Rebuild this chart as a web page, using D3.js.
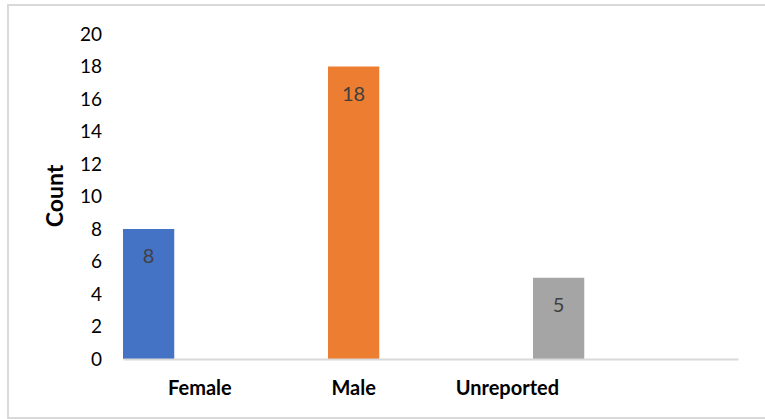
<!DOCTYPE html>
<html>
<head>
<meta charset="utf-8">
<script src="https://cdn.jsdelivr.net/npm/d3@7"></script>
<style>
  body { margin: 0; background: #fff; }
  svg { display: block; }
</style>
</head>
<body>
<script>
// chart data
var categories = ["Female", "Male", "Unreported", ""];
var series = ["Female", "Male", "Unreported"];
var counts = [8, 18, 5];
var colors = ["#4472C4", "#ED7D31", "#A5A5A5"];
var yTicks = [0, 2, 4, 6, 8, 10, 12, 14, 16, 18, 20];

var W = 765, H = 419;
var margin = {top: 34, right: 27, bottom: 60, left: 123};
var font = "Lato, 'Open Sans', sans-serif";

var svg = d3.select("body")
  .append("svg")
  .attr("width", W)
  .attr("height", H);

// outer border of chart area
svg.append("rect")
  .attr("x", 8)
  .attr("y", 5)
  .attr("width", W)
  .attr("height", 413)
  .attr("fill", "none")
  .attr("stroke", "#d9d9d9")
  .attr("stroke-width", 2);

// scales
var x0 = d3.scaleBand()
  .domain(categories)
  .range([margin.left, W - margin.right])
  .padding(0);

var x1 = d3.scaleBand()
  .domain(series)
  .range([0, x0.bandwidth()])
  .padding(0);

var y = d3.scaleLinear()
  .domain([0, 20])
  .range([H - margin.bottom, margin.top]);

// Y axis (labels only)
var yAxis = svg.append("g")
  .attr("transform", "translate(" + (margin.left - 21) + ",0)")
  .call(d3.axisLeft(y).tickValues(yTicks).tickSize(0).tickPadding(0));
yAxis.select(".domain").remove();
yAxis.selectAll("text")
  .attr("font-family", font)
  .attr("font-size", 19)
  .attr("fill", "#000");

// bars, one per series in its own category
var bars = series.map(function(s, i) {
  return {cat: categories[i], ser: s, value: counts[i], color: colors[i]};
});

svg.selectAll("rect.bar")
  .data(bars)
  .enter().append("rect")
  .attr("class", "bar")
  .attr("x", function(d) { return x0(d.cat) + x1(d.ser); })
  .attr("width", x1.bandwidth())
  .attr("y", function(d) { return y(d.value); })
  .attr("height", function(d) { return y(0) - y(d.value); })
  .attr("fill", function(d) { return d.color; });

// data labels
svg.selectAll("text.lbl")
  .data(bars)
  .enter().append("text")
  .attr("class", "lbl")
  .attr("x", function(d) { return x0(d.cat) + x1(d.ser) + x1.bandwidth() / 2; })
  .attr("y", function(d) { return y(d.value) + 27; })
  .attr("dy", "0.35em")
  .attr("text-anchor", "middle")
  .attr("font-family", font)
  .attr("font-size", 20)
  .attr("fill", "#404040")
  .text(function(d) { return d.value; });

// X axis
var xAxis = svg.append("g")
  .attr("transform", "translate(0," + y(0) + ")")
  .call(d3.axisBottom(x0).tickSize(0).tickPadding(22));
xAxis.select(".domain")
  .attr("stroke", "#d9d9d9")
  .attr("stroke-width", 2);
xAxis.selectAll("text")
  .attr("font-family", font)
  .attr("font-size", 20)
  .attr("font-weight", "bold")
  .attr("fill", "#000");

// Y axis label
svg.append("text")
  .attr("transform", "translate(63,196) rotate(-90)")
  .attr("text-anchor", "middle")
  .attr("font-family", font)
  .attr("font-size", 23)
  .attr("font-weight", "bold")
  .attr("fill", "#000")
  .text("Count");
</script>
</body>
</html>
